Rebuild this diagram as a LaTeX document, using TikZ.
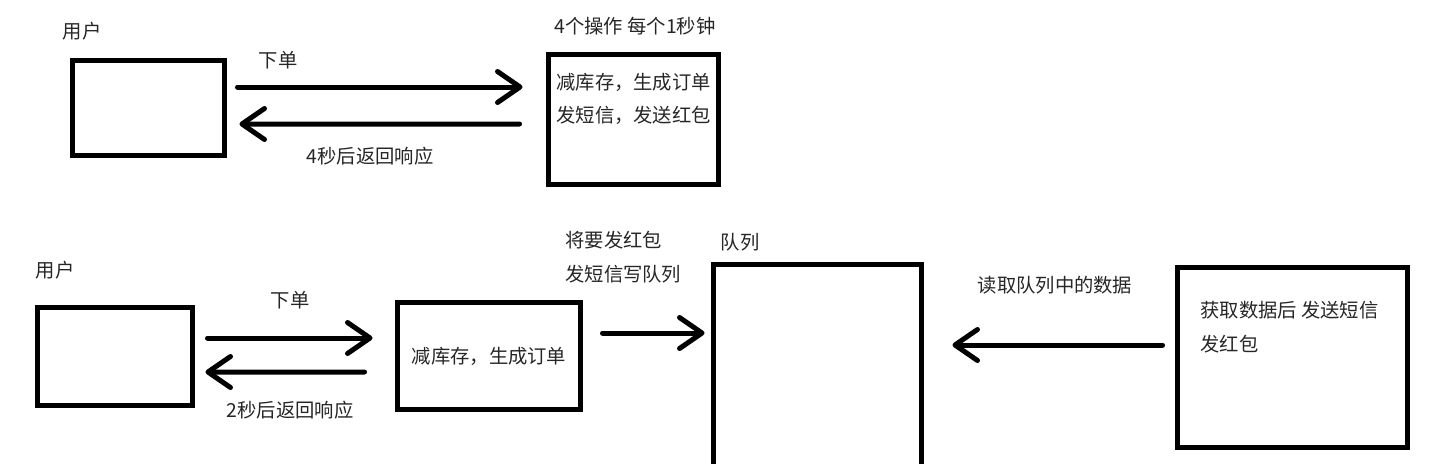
\documentclass[tikz,border=0pt]{standalone}
\usepackage{fontspec}
\setmainfont{Noto Sans CJK SC}
\usetikzlibrary{arrows.meta,calc}

\begin{document}
\begin{tikzpicture}[
        x=0.02cm, y=-0.02cm,
        box/.style={draw, rectangle, line width=0.1cm, inner sep=0pt},
        arr/.style={line width=0.1cm, line cap=round,
          -{Straight Barb[length=0.45cm, width=0.62cm, line cap=round, line join=round]}},
        every node/.style={font=\fontsize{11}{19}\selectfont, inner sep=0pt, text=black!85}
      ]
      \useasboundingbox (0,0) rectangle (1432,463);

      % top: synchronous order
      \node[box, minimum width=3.04cm, minimum height=1.9cm] (user1) at (148.5,108) {};
      \node[box, minimum width=3.4cm, minimum height=2.6cm] (work1) at (633.5,119.5) {};
      \node (userlbl1) at (82,31) {用户};
      \node (worklbl1) at (635,26) {4个操作 每个1秒钟};
      \node[anchor=north west, align=left] (worktxt1) at (556,73) {减库存，生成订单\\发短信，发送红包};

      \draw[arr] ($(user1.east)+(10.5,-21)$) -- ($(work1.west)+(-23.5,-32.5)$);
      \draw[arr] ($(work1.west)+(-26.5,4.5)$) -- ($(user1.east)+(12.5,16)$);
      \node (order1) at (278,60) {下单};
      \node (resp1) at (370,156) {4秒后返回响应};

      % bottom: with a queue
      \node[box, minimum width=3.1cm, minimum height=1.96cm] (user2) at (115,356.5) {};
      \node[box, minimum width=3.66cm, minimum height=2.14cm] (work2) at (489,356) {减库存，生成订单};
      \node[box, minimum width=4.16cm, minimum height=4.16cm] (queue) at (817.5,368.5) {};
      \node[box, minimum width=4.6cm, minimum height=3.6cm] (consumer) at (1292.5,357.5) {};
      \node (userlbl2) at (55,270) {用户};
      \node (queuelbl) at (740,242) {队列};
      \node[anchor=north west, align=left] (writelbl) at (565,231) {将要发红包\\发短信写队列};
      \node[anchor=north west, align=left] (constxt) at (1200,301) {获取数据后 发送短信\\发红包};

      \draw[arr] ($(user2.east)+(12.5,-18.5)$) -- ($(work2.west)+(-22.5,-18)$);
      \draw[arr] ($(work2.west)+(-30.5,16)$) -- ($(user2.east)+(10.5,15.5)$);
      \draw[arr] ($(work2.east)+(19.5,-23)$) -- ($(queue.west)+(-6.5,-35.5)$);
      \draw[arr] ($(consumer.west)+(-12.5,-12.5)$) -- ($(queue.east)+(28.5,-23.5)$);
      \node (order2) at (290,300) {下单};
      \node (resp2) at (290,410) {2秒后返回响应};
      \node (readlbl) at (1055,285) {读取队列中的数据};
    \end{tikzpicture}
\end{document}
